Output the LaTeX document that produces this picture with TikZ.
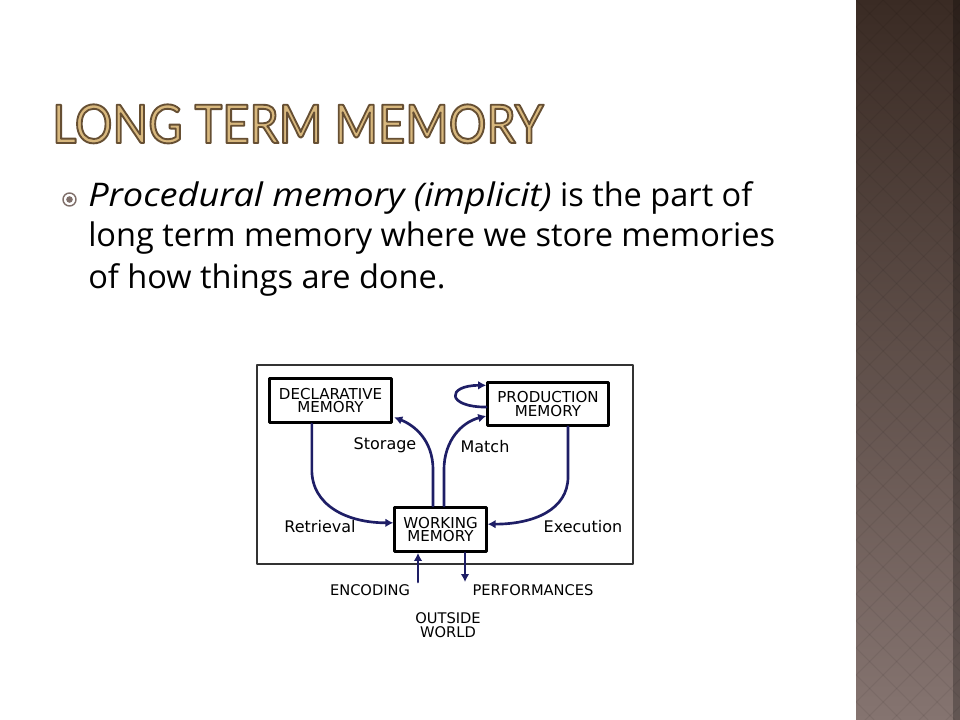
\documentclass[tikz,border=0pt]{standalone}
\usepackage{fontspec}
\setmainfont{Open Sans}[ItalicFeatures={FakeStretch=1.11}]
\newfontfamily\titelfont[FakeStretch=0.88]{Lato}
\newfontfamily\bildfont{DejaVu Sans}
\usepackage{tikz}
\usetikzlibrary{arrows.meta}
\usetikzlibrary{positioning}
\definecolor{pfeilblau}{HTML}{1E1E66}
\definecolor{goldhell}{HTML}{D8B87E}
\definecolor{goldrand}{HTML}{6E5535}
\definecolor{braunoben}{HTML}{3A2B24}
\definecolor{braununten}{HTML}{857470}
\definecolor{punktgrau}{HTML}{7F6F6A}
% Umrissschrift (Fuellen und Nachziehen)
\newcommand{\umriss}[1]{\special{pdf:literal direct 2 Tr 1.4 w 0.40 0.31 0.20 RG}#1\special{pdf:literal direct 0 Tr}}

\begin{document}
\begin{tikzpicture}[line cap=round,line join=round,x=0.75pt,y=-0.75pt,
    titelstil/.style={font=\titelfont\fontsize{40}{40}\selectfont,inner sep=0pt,anchor=base west},
    textzeile/.style={font=\fontsize{24.4}{30}\selectfont,inner sep=0pt,anchor=base west},
    kasten/.style={draw=black,line width=2.2pt,align=center,inner sep=0pt,font=\bildfont\fontsize{11.3}{10}\selectfont},
    marke/.style={font=\bildfont\fontsize{12}{12}\selectfont,inner sep=0pt},
    grossmarke/.style={font=\bildfont\fontsize{11}{10}\selectfont,inner sep=0pt,align=center},
    pfeil/.style={-{Latex[length=6pt,width=6.5pt]},draw=pfeilblau,line width=2pt}]
  % Hintergrund und Seitenleiste
  \useasboundingbox[fill=white] (0,0) rectangle (960,720);
  \shade[top color=braunoben,bottom color=braununten] (856,0) rectangle (960,720);
  \begin{scope}
    \clip (856,0) rectangle (960,720);
    \foreach \k in {-28,...,31}
    {
      \draw[black,opacity=0.06,line width=0.8pt] (856+\k*27,0) -- ++(720,720);
      \draw[black,opacity=0.06,line width=0.8pt] (856+\k*27,0) -- ++(-720,720);
    }
    \fill[black,opacity=0.25] (953,0) rectangle (960,720);
  \end{scope}
  % Titel
  \node[titelstil,text=goldhell] (titel) at (52,143) {\umriss{LONG TERM MEMORY}};
  % Aufzaehlung
  \draw[punktgrau,line width=1.1pt] (69.5,199.5) circle (6.5);
  \fill[punktgrau] (69.5,199.5) circle (3.3);
  \node[textzeile] (zeile1) at (88,207) {\textit{Procedural memory (implicit)} is the part of};
  \node[textzeile] (zeile2) at (88,247) {long term memory where we store memories};
  \node[textzeile] (zeile3) at (88,288) {of how things are done.};
  % Diagramm
  \draw[black!80,line width=1.1pt] (257,365) rectangle (633,564);
  \node[kasten,minimum width=91.5pt,minimum height=33pt] (dekl) at (330.5,400.5) {DECLARATIVE\\MEMORY};
  \node[kasten,minimum width=90.5pt,minimum height=32pt] (prod) at (548,404) {PRODUCTION\\MEMORY};
  \node[kasten,minimum width=68.5pt,minimum height=33pt] (arbeit) at (440.5,529.5) {WORKING\\MEMORY};
  \draw[pfeil] ([xshift=-14pt]dekl.south) -- ++(0,46) .. controls +(0,35) and +(-47,0) .. ([yshift=5pt]arbeit.west);
  \draw[pfeil] ([xshift=15pt]prod.south) -- ++(0,50) .. controls +(0,33) and +(46,0) .. ([yshift=4pt]arbeit.east);
  \draw[pfeil] ([xshift=-5.6pt]arbeit.north) -- ++(0,-36) .. controls +(0,-30) and +(20,8) .. ([xshift=1pt,yshift=5pt]dekl.south east);
  \draw[pfeil] ([xshift=2.6pt]arbeit.north) -- ++(0,-36) .. controls +(0,-30) and +(-24,6) .. ([yshift=-9pt]prod.west);
  \draw[pfeil] ([yshift=-2.3pt]prod.west) .. controls +(-40,0) and +(-40,0) .. ([yshift=14pt]prod.west);
  \coordinate (ein) at (418,582);
  \coordinate (aus) at (465,582);
  \draw[pfeil] (ein) -- (ein |- arbeit.south);
  \draw[pfeil] (aus |- arbeit.south) -- (aus);
  \node[marke] (speicher) at (385,445) {Storage};
  \node[marke] (abgleich) at (485,447) {Match};
  \node[marke] (abruf) at (320,527) {Retrieval};
  \node[marke] (ausfuehr) at (583,527) {Execution};
  \node[grossmarke] (kodierung) at (370,590) {ENCODING};
  \node[grossmarke] (leistung) at (533,590) {PERFORMANCES};
  \node[grossmarke] (welt) at (448,625) {OUTSIDE\\WORLD};
\end{tikzpicture}
\end{document}
